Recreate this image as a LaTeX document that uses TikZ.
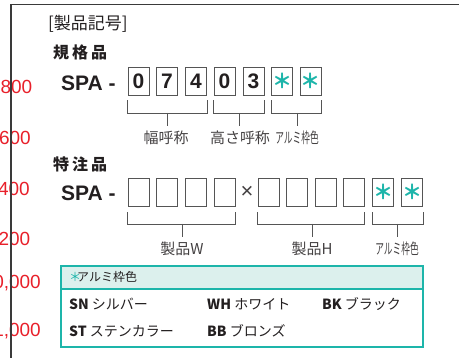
\documentclass[tikz,border=0pt]{standalone}
\usepackage{fontspec}
\usepackage{graphicx}
\setmainfont{Liberation Sans}
\newfontfamily\jp{Noto Sans CJK JP}
\definecolor{frameg}{HTML}{3A3A3A}
\definecolor{boxg}{HTML}{555555}
\definecolor{teal1}{HTML}{1DB5AA}
\definecolor{tealbg}{HTML}{DCF0ED}
\definecolor{redn}{HTML}{E8202A}
\definecolor{txt}{HTML}{231F20}
\tikzset{
  cell/.style={draw=boxg, line width=0.9pt, minimum width=21pt, minimum height=28pt, inner sep=0pt,
    font=\fontsize{21}{21}\selectfont\bfseries, text=txt},
  star/.style={cell, font=\jp\fontsize{20}{20}\selectfont\bfseries, text=teal1},
  brk/.style={draw=boxg, line width=0.9pt},
  lbl/.style={font=\jp\fontsize{15}{15}\selectfont, text=txt!85, inner sep=0pt},
  head/.style={font=\jp\fontsize{16}{16}\selectfont\bfseries, text=txt, inner sep=0pt, anchor=west},
  spa/.style={font=\fontsize{21}{21}\selectfont\bfseries, text=txt, inner sep=0pt, anchor=west},
  redno/.style={font=\fontsize{19}{19}\selectfont, text=redn, inner sep=0pt, anchor=east},
  leg/.style={font=\jp\fontsize{14}{14}\selectfont, text=txt, inner sep=0pt, anchor=west},
}
\newcommand{\narrow}[1]{\scalebox{0.58}[1]{#1}}
\begin{document}
\begin{tikzpicture}[x=1pt,y=-1pt]
\useasboundingbox (0,0) rectangle (459,358);
\clip (0,0) rectangle (459,358);
% red numbers
\node[redno] (r1) at (32.5,87) {800};
\node[redno] (r2) at (31,138) {600};
\node[redno] (r3) at (30,189) {400};
\node[redno] (r4) at (30.5,239) {200};
\node[redno] (r5) at (41,283) {0,000};
\node[redno] (r6) at (41,331) {1,000};
% frame
\coordinate (fa) at (11,358);
\coordinate (fb) at (11,4.7);
\coordinate (fc) at (459,4.7);
\draw[frameg, line width=1.2pt] (fa) -- (fb) -- (fc);
% headings
\node[font=\jp\fontsize{17}{17}\selectfont, text=txt, inner sep=0pt, anchor=west] (title) at (48,24) {[製品記号]};
\node[head] (std) at (53,52) {規\hspace{3pt}格\hspace{3pt}品};
\node[spa] (spa1) at (61,83) {SPA -};
% row 1 boxes
\node[cell] (a1) at (138.5,81) {0};
\node[cell] (a2) at (167,81) {7};
\node[cell] (a3) at (196,81) {4};
\node[cell] (a4) at (224.5,81) {0};
\node[cell] (a5) at (253.5,81) {3};
\node[star] (a6) at (282,81) {＊};
\node[star] (a7) at (310.5,81) {＊};
% row 1 brackets
\draw[brk] ([yshift=-5pt]a1.south west) -- ([yshift=-18pt]a1.south west) -| ([yshift=-5pt]a3.south east);
\draw[brk] ([yshift=-5pt]a4.south west) -- ([yshift=-18pt]a4.south west) -| ([yshift=-5pt]a5.south east);
\draw[brk] ([yshift=-5pt]a6.south west) -- ([yshift=-18pt]a6.south west) -| ([yshift=-5pt]a7.south east);
\node[lbl] (l1) at (166,138) {幅呼称};
\node[lbl] (l2) at (240,138) {高さ呼称};
\node[lbl] (l3) at (297,138) {\narrow{アルミ枠色}};
\coordinate (s1) at (167,113); \coordinate (t1) at (167,126);
\coordinate (s2) at (239,113); \coordinate (t2) at (239,126);
\coordinate (s3) at (297,113); \coordinate (t3) at (297,126);
\draw[brk] (s1) -- (t1);
\draw[brk] (s2) -- (t2);
\draw[brk] (s3) -- (t3);
% special order
\node[head] (cust) at (53,164) {特\hspace{3pt}注\hspace{3pt}品};
\node[spa] (spa2) at (61,193) {SPA -};
\node[cell] (b1) at (138.5,192) {};
\node[cell] (b2) at (167,192) {};
\node[cell] (b3) at (196,192) {};
\node[cell] (b4) at (224.5,192) {};
\node[font=\fontsize{22}{22}\selectfont, text=txt!85, inner sep=0pt] (x) at (247,192) {×};
\node[cell] (b5) at (268.5,192) {};
\node[cell] (b6) at (297,192) {};
\node[cell] (b7) at (325.5,192) {};
\node[cell] (b8) at (353.5,192) {};
\node[star] (b9) at (383,192) {＊};
\node[star] (b10) at (412,192) {＊};
\draw[brk] ([yshift=-6pt]b1.south west) -- ([yshift=-18pt]b1.south west) -| ([yshift=-6pt]b4.south east);
\draw[brk] ([yshift=-6pt]b5.south west) -- ([yshift=-18pt]b5.south west) -| ([yshift=-6pt]b8.south east);
\draw[brk] ([yshift=-6pt]b9.south west) -- ([yshift=-18pt]b9.south west) -| ([yshift=-6pt]b10.south east);
\node[lbl] (m1) at (182,249) {製品W};
\node[lbl] (m2) at (312,249) {製品H};
\node[lbl] (m3) at (397,249) {\narrow{アルミ枠色}};
\coordinate (u1) at (182,224); \coordinate (v1) at (182,237);
\coordinate (u2) at (312,224); \coordinate (v2) at (312,237);
\coordinate (u3) at (397,224); \coordinate (v3) at (397,237);
\draw[brk] (u1) -- (v1);
\draw[brk] (u2) -- (v2);
\draw[brk] (u3) -- (v3);
% legend
\coordinate (ga) at (61,266);
\coordinate (gb) at (423,289);
\coordinate (gc) at (423,347);
\fill[tealbg] (ga) rectangle (gb);
\draw[teal1, line width=1.6pt] (ga |- gb) -- (gb);
\draw[teal1, line width=1.2pt] (ga) rectangle (gc);
\node[font=\jp\fontsize{12}{12}\selectfont, text=txt, inner sep=0pt, anchor=west] (lh) at (69,277) {{\color{teal1}＊}\hspace{-4pt}アルミ枠色};
\node[leg] (sn) at (69,304) {{\bfseries SN} シルバー};
\node[leg] (wh) at (207,304) {{\bfseries WH} ホワイト};
\node[leg] (bk) at (322,304) {{\bfseries BK} ブラック};
\node[leg] (st) at (69,331) {{\bfseries ST} ステンカラー};
\node[leg] (bb) at (207,331) {{\bfseries BB} ブロンズ};
\end{tikzpicture}
\end{document}
